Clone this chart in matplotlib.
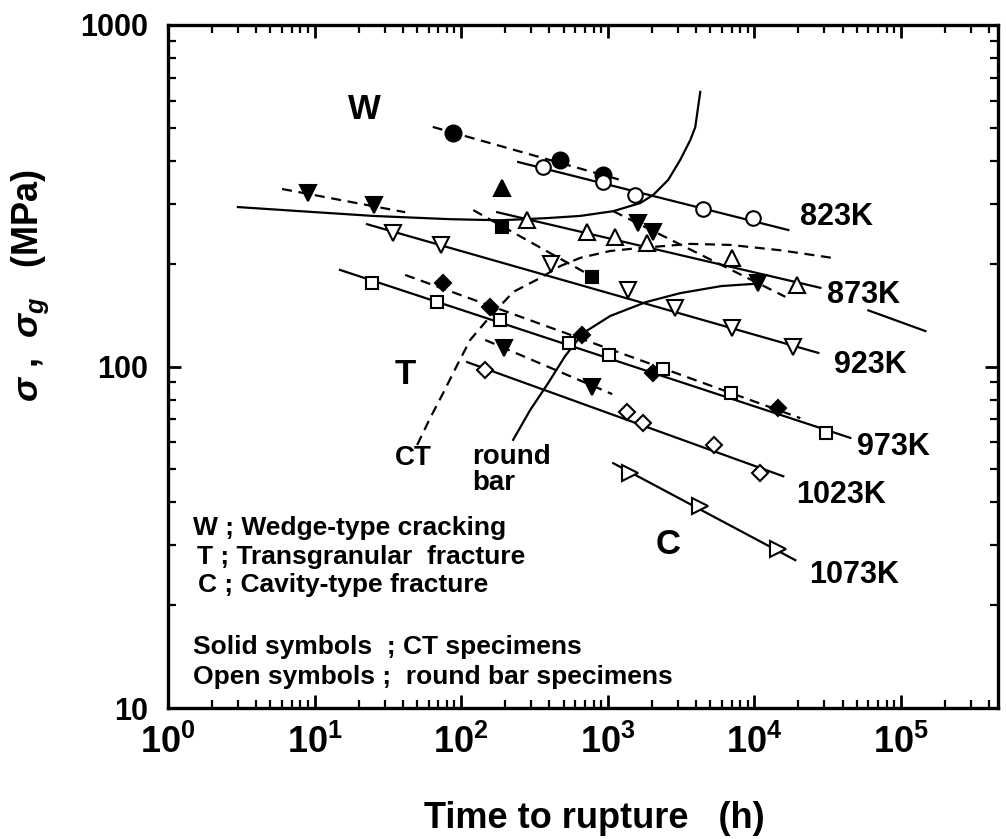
import matplotlib
matplotlib.use('Agg')
import matplotlib.pyplot as plt

plt.rcParams['font.family'] = ['Liberation Sans', 'DejaVu Sans']
plt.rcParams['font.weight'] = 'bold'
plt.rcParams['mathtext.fontset'] = 'custom'
plt.rcParams['mathtext.rm'] = 'Liberation Sans:bold'
plt.rcParams['mathtext.bf'] = 'Liberation Sans:bold'
plt.rcParams['mathtext.it'] = 'Liberation Sans:italic:bold'

# ---------------- data (time to rupture h, stress MPa) ----------------
# 823 K
t823_rb = [363, 931, 1541, 4487, 9840]
s823_rb = [384, 347, 318, 289, 272]
t823_rb_fit = [245, 17060]
s823_rb_fit = [397, 251]
t823_ct = [88, 474, 931]
s823_ct = [483, 402, 364]
t823_ct_fit = [64, 1217]
s823_ct_fit = [503, 352]

# 873 K
t873_rb = [282, 724, 1125, 1861, 7079, 19670]
s873_rb = [268, 248, 239, 230, 208, 173]
t873_rb_fit = [176, 28230]
s873_rb_fit = [283, 170]
t873_ext = [60000, 146900]
s873_ext = [146, 127]
t873_ct_up = [190]
s873_ct_up = [333]
t873_ct_a = [9.03, 25.5]
s873_ct_a = [322, 297]
t873_ct_a_fit = [6.0, 41.5]
s873_ct_a_fit = [331, 283]
t873_ct_b = [1615, 2045, 10650]
s873_ct_b = [263, 248, 176]
t873_ct_b_fit = [1091, 16290]
s873_ct_b_fit = [285, 160]

# 923 K
t923_rb = [34.3, 73.0, 411, 1380, 2890, 7079, 18460]
s923_rb = [246, 227, 199, 167, 148.3, 129.8, 114.0]
t923_rb_fit = [22.8, 27350]
s923_rb_fit = [261, 109.6]
t923_ct = [190, 784]
s923_ct = [256, 183]
t923_ct_fit = [121, 931]
s923_ct_fit = [287, 176]

# 973 K
t973_rb = [24.7, 68.6, 184.6, 546, 1024, 2392, 6966, 31000]
s973_rb = [176, 154.5, 136.8, 117.2, 108.1, 98.4, 83.6, 63.8]
t973_rb_fit = [14.9, 45200]
s973_rb_fit = [191.8, 61.8]
t973_ct = [75.4, 157.7, 670, 2045, 14580]
s973_ct = [176, 149.3, 123.6, 95.7, 75.5]
t973_ct_fit = [41.5, 20600]
s973_ct_fit = [185.4, 70.6]

# 1023 K
t1023_rb = [145.8, 1358, 1747, 5333, 10990]
s1023_rb = [97.7, 73.6, 68.4, 58.9, 48.8]
t1023_rb_fit = [109.9, 15770]
s1023_rb_fit = [103.0, 47.7]
t1023_ct = [196.6, 784]
s1023_ct = [113.2, 87.1]
t1023_ct_fit = [145.8, 1073]
s1023_ct_fit = [119.6, 83.0]

# 1073 K
t1073_rb = [1425, 4279, 14580]
s1073_rb = [48.8, 39.1, 29.2]
t1073_rb_fit = [1091, 19050]
s1073_rb_fit = [52.1, 27.1]

# fracture-mode boundaries
bw_rb_t = [3.0, 7.96, 25.1, 84.1, 184.6, 386, 649, 1091, 1667, 2045, 2588, 3126, 3656, 3956, 4279]
bw_rb_s = [293, 285, 276, 270, 268, 272, 276, 285, 301, 318, 352, 403, 460, 502, 637]
bct_t = [50.1, 61.4, 75.4, 93.9, 115.2, 150.4, 226.4, 346, 474, 649, 1040, 1589, 3656, 6855, 15040, 34060]
bct_s = [58.9, 70.6, 83.6, 100.9, 119.6, 136.8, 165.3, 181.6, 196.8, 208, 217.9, 222, 228.6, 227, 219, 208]
brb_t = [226.4, 296, 393, 513, 680, 1040, 1832, 3126, 5955, 10000]
brb_s = [61.0, 74.6, 89.5, 107.4, 125.3, 140.6, 154.5, 164, 172, 174.6]

# axes ticks
x_major = [1, 10, 100, 1000, 10000, 100000]
x_labels = [r'$\mathbf{10^{0}}$', r'$\mathbf{10^{1}}$', r'$\mathbf{10^{2}}$',
            r'$\mathbf{10^{3}}$', r'$\mathbf{10^{4}}$', r'$\mathbf{10^{5}}$']
y_major = [10, 100, 1000]
y_labels = ['10', '100', '1000']

temp_labels = ['823K', '873K', '923K', '973K', '1023K', '1073K']
temp_label_pos = [(0.761, 0.719), (0.794, 0.605), (0.802, 0.502),
                  (0.830, 0.382), (0.757, 0.312), (0.773, 0.195)]

# ---------------- figure ----------------
fig = plt.figure(figsize=(10.06, 8.39), dpi=100)
ax = fig.add_axes([168 / 1006, 131 / 839, 830 / 1006, 683 / 839])
ax.set_xscale('log')
ax.set_yscale('log')
ax.set_xlim(1, 4.6e5)
ax.set_ylim(10, 1000)

LW = 1.6
DASH = (4.5, 3)
MS = dict(mew=1.5, mec='black', zorder=4, linestyle='none')


def fit(t, s, dashed=False):
    if dashed:
        ax.plot(t, s, color='black', lw=LW, dashes=DASH, zorder=2)
    else:
        ax.plot(t, s, color='black', lw=LW, zorder=2)


def pts(t, s, marker, size, filled):
    ax.plot(t, s, marker=marker, ms=size, mfc='black' if filled else 'white', **MS)


# 823 K
fit(t823_rb_fit, s823_rb_fit)
fit(t823_ct_fit, s823_ct_fit, dashed=True)
pts(t823_ct, s823_ct, 'o', 11.5, True)
pts(t823_rb, s823_rb, 'o', 10.5, False)

# 873 K
fit(t873_rb_fit, s873_rb_fit)
fit(t873_ext, s873_ext)
fit(t873_ct_a_fit, s873_ct_a_fit, dashed=True)
fit(t873_ct_b_fit, s873_ct_b_fit, dashed=True)
pts(t873_rb, s873_rb, '^', 11, False)
pts(t873_ct_up, s873_ct_up, '^', 11, True)
pts(t873_ct_a, s873_ct_a, 'v', 11, True)
pts(t873_ct_b, s873_ct_b, 'v', 11, True)

# 923 K
fit(t923_rb_fit, s923_rb_fit)
fit(t923_ct_fit, s923_ct_fit, dashed=True)
pts(t923_rb, s923_rb, 'v', 11, False)
pts(t923_ct, s923_ct, 's', 9, True)

# 973 K
fit(t973_rb_fit, s973_rb_fit)
fit(t973_ct_fit, s973_ct_fit, dashed=True)
pts(t973_ct, s973_ct, 'D', 8, True)
pts(t973_rb, s973_rb, 's', 8.5, False)

# 1023 K
fit(t1023_rb_fit, s1023_rb_fit)
fit(t1023_ct_fit, s1023_ct_fit, dashed=True)
pts(t1023_rb, s1023_rb, 'D', 8, False)
pts(t1023_ct, s1023_ct, 'v', 11, True)

# 1073 K
fit(t1073_rb_fit, s1073_rb_fit)
pts(t1073_rb, s1073_rb, '>', 11, False)

# boundaries
ax.plot(bw_rb_t, bw_rb_s, color='black', lw=LW, zorder=2)
ax.plot(bct_t, bct_s, color='black', lw=LW, dashes=DASH, zorder=2)
ax.plot(brb_t, brb_s, color='black', lw=LW, zorder=2)

# ticks
ax.set_xticks(x_major)
ax.set_xticklabels(x_labels)
ax.set_yticks(y_major)
ax.set_yticklabels(y_labels)
ax.xaxis.set_minor_locator(matplotlib.ticker.LogLocator(base=10, subs=range(2, 10), numticks=20))
ax.yaxis.set_minor_locator(matplotlib.ticker.LogLocator(base=10, subs=range(2, 10), numticks=20))
ax.xaxis.set_minor_formatter(matplotlib.ticker.NullFormatter())
ax.yaxis.set_minor_formatter(matplotlib.ticker.NullFormatter())
ax.tick_params(which='both', direction='in', top=True, right=True)
ax.tick_params(which='major', length=9.5, width=2)
ax.tick_params(which='minor', length=5.5, width=1.6)
ax.tick_params(axis='y', which='major', labelsize=22, pad=14)
ax.tick_params(axis='x', which='major', labelsize=26, pad=12)
for lab in ax.get_yticklabels():
    lab.set_fontweight('bold')
for sp in ax.spines.values():
    sp.set_linewidth(2.4)

# labels
fig.text(594 / 1006, 1 - 818 / 839, 'Time to rupture   (h)', fontsize=26,
         fontweight='bold', ha='center', va='center')
fig.text(30 / 1006, 0.66, r'$\sigma$ ,  $\sigma_g$   (MPa)', fontsize=26,
         fontweight='bold', ha='center', va='center', rotation=90)

for lab, (fx, fy) in zip(temp_labels, temp_label_pos):
    ax.text(fx, fy, lab, transform=ax.transAxes, fontsize=22, fontweight='bold',
            ha='left', va='center')

ax.text(0.237, 0.876, 'W', transform=ax.transAxes, fontsize=25, ha='center', va='center')
ax.text(0.286, 0.489, 'T', transform=ax.transAxes, fontsize=25, ha='center', va='center')
ax.text(0.602, 0.239, 'C', transform=ax.transAxes, fontsize=25, ha='center', va='center')
ax.text(0.295, 0.366, 'CT', transform=ax.transAxes, fontsize=20, ha='center', va='center')
ax.text(0.367, 0.348, 'round\nbar', transform=ax.transAxes, fontsize=20, ha='left',
        va='center', linespacing=1.0)

legend_lines = ['W ; Wedge-type cracking', 'T ; Transgranular  fracture',
                'C ; Cavity-type fracture', 'Solid symbols  ; CT specimens',
                'Open symbols ;  round bar specimens']
legend_pos = [(0.030, 0.264), (0.035, 0.221), (0.036, 0.180), (0.030, 0.089), (0.030, 0.045)]
for txt, (fx, fy) in zip(legend_lines, legend_pos):
    ax.text(fx, fy, txt, transform=ax.transAxes, fontsize=19, ha='left', va='center')

fig.savefig('out.png', dpi=100)
